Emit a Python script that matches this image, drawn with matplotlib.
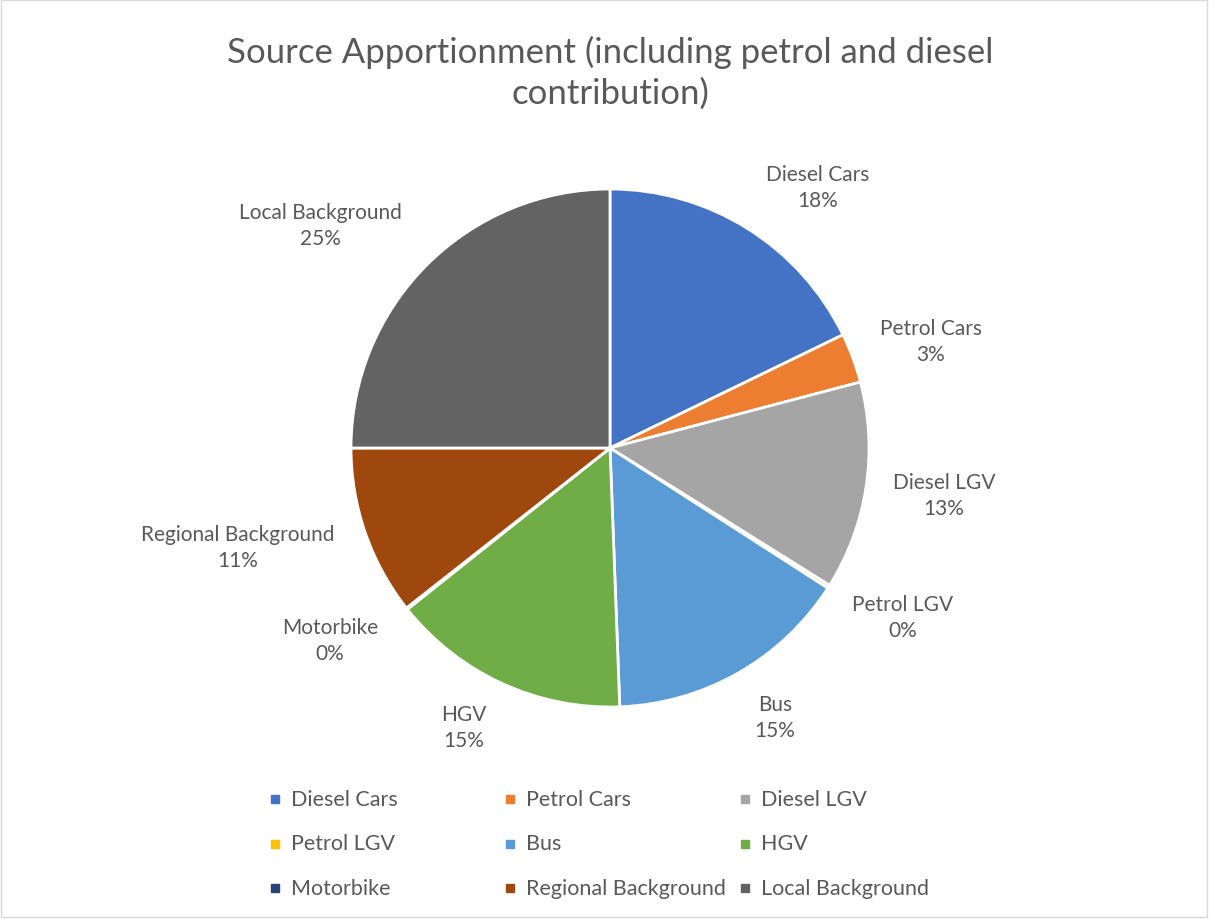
import matplotlib
matplotlib.use("Agg")
import matplotlib.pyplot as plt
from matplotlib.patches import Rectangle

# data
categories = ["Diesel Cars", "Petrol Cars", "Diesel LGV", "Petrol LGV", "Bus",
              "HGV", "Motorbike", "Regional Background", "Local Background"]
values = [17.8, 3.1, 13.0, 0.2, 15.3, 14.9, 0.1, 10.6, 25.0]
colors = ["#4472C4", "#ED7D31", "#A5A5A5", "#FFC000", "#5B9BD5",
          "#70AD47", "#264478", "#9E480E", "#636363"]

# label centres (pixels from top-left of the picture)
label_pos = [(818, 187), (931, 341), (944, 495), (903, 617), (775, 717),
             (464, 727), (330, 640), (238, 547), (320, 225)]

W, H = 1209, 920
plt.rcParams['font.family'] = ['Lato', 'DejaVu Sans']
text_color = "#595959"

fig = plt.figure(figsize=(W / 100, H / 100), dpi=100)
ax = fig.add_axes([0, 0, 1, 1])

# pie (y axis is flipped, so go counter-clockwise in data to look clockwise)
wedges, _ = ax.pie(values, colors=colors, startangle=-90, counterclock=True,
                   center=(610, 449), radius=259, frame=True,
                   wedgeprops=dict(edgecolor='white', linewidth=2))
ax.set_xlim(0, W)
ax.set_ylim(H, 0)
ax.set_aspect('equal')
ax.axis('off')

total = sum(values)
for name, v, (x, y) in zip(categories, values, label_pos):
    ax.text(x, y + 1, f"{name}\n{round(v / total * 100):.0f}%", ha='center', va='center',
            fontsize=15, color=text_color, linespacing=1.4)

# title
ax.text(610, 73, "Source Apportionment (including petrol and diesel\ncontribution)",
        ha='center', va='center', fontsize=25, color=text_color, linespacing=1.3)

# legend laid out in an even grid like Excel
for i, (name, c) in enumerate(zip(categories, colors)):
    col, row = i % 3, i // 3
    x0 = 275 + col * 235
    y0 = 800 + row * 44.5
    ax.add_patch(Rectangle((x0 - 4, y0 - 4), 8, 8, color=c))
    ax.text(x0 + 16, y0, name, ha='left', va='center', fontsize=15.5, color=text_color)

# outer chart border
ax.add_patch(Rectangle((1, 1), W - 3, H - 3, fill=False, edgecolor='#D9D9D9', linewidth=1))

fig.savefig("out.png", dpi=100)
